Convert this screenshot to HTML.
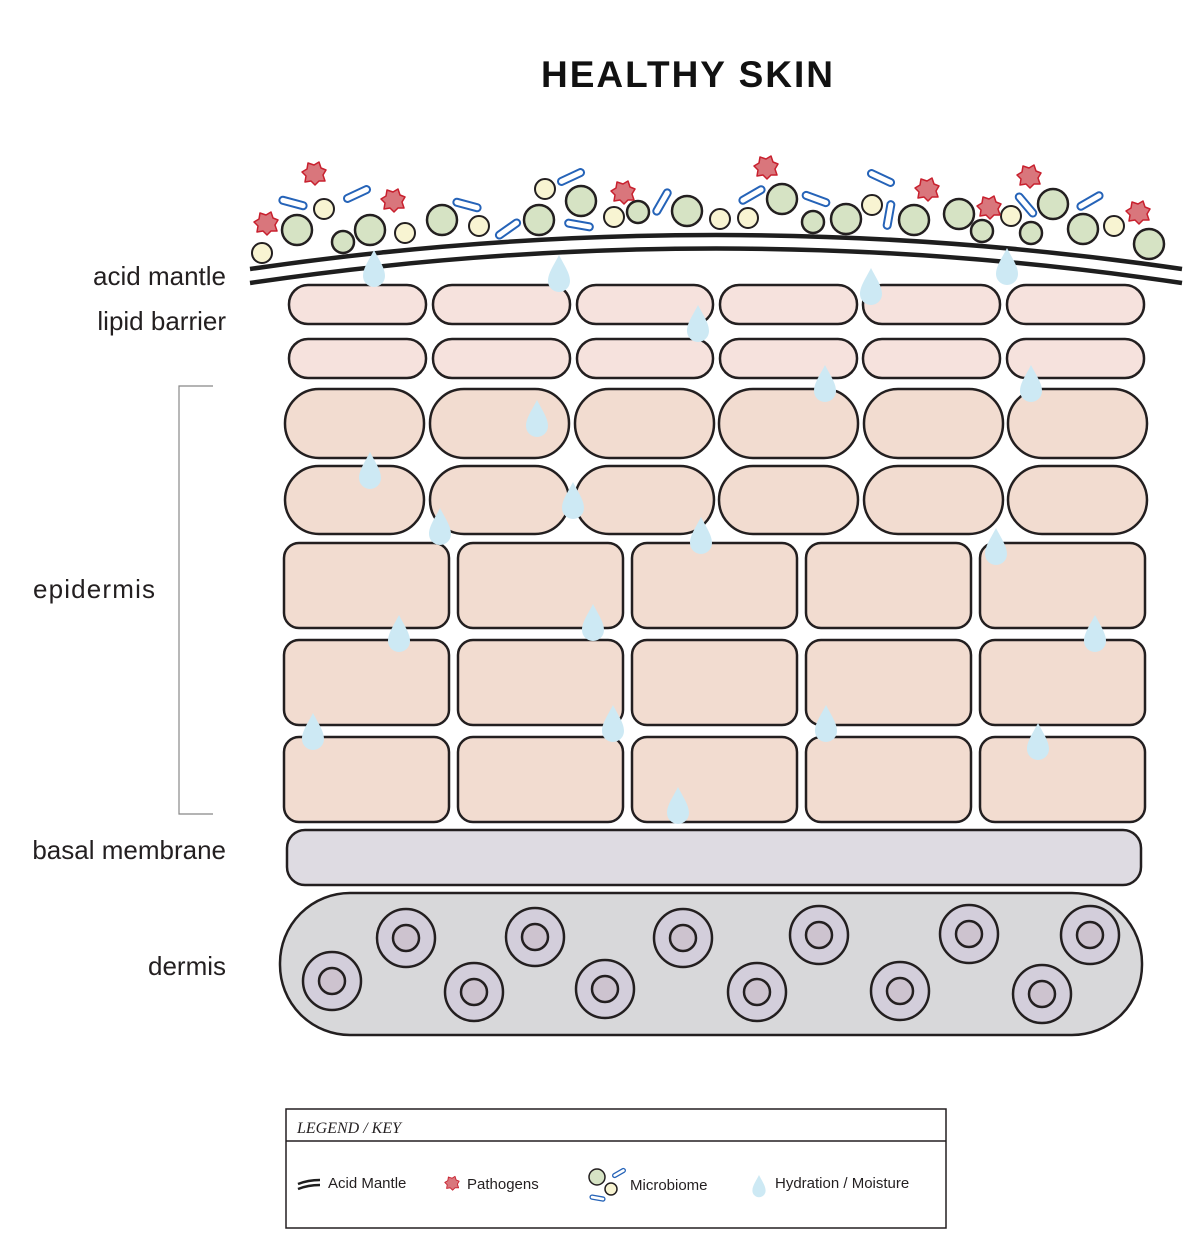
<!DOCTYPE html>
<html><head><meta charset="utf-8"><style>
html,body{margin:0;padding:0;background:#fff;}
svg{display:block;}
text{font-family:"Liberation Sans",sans-serif;fill:#231f20;}
</style></head><body>
<svg width="1200" height="1260" viewBox="0 0 1200 1260" xmlns="http://www.w3.org/2000/svg">
<defs>
<path id="drop" d="M0,-20 C5,-10 11,-2 11,6 A11,11 0 0 1 -11,6 C-11,-2 -5,-10 0,-20Z" fill="#cde9f4"/>
<path id="blob" d="M-6,-10 L0,-8 L5,-11 L7,-5 L12,-3 L9,2 L11,8 L5,8 L1,12 L-3,8 L-9,9 L-8,3 L-12,-1 L-7,-4Z" fill="#d9767c" stroke="#c8202e" stroke-width="1.5" stroke-linejoin="round"/>
<rect id="cap" x="-14" y="-3.5" width="28" height="7" rx="3.5" fill="#fff" stroke="#2563b8" stroke-width="2"/>
<g id="cell"><circle r="29" fill="#d3cedb" stroke="#231f20" stroke-width="2.5"/><circle r="13" fill="#cdc3cf" stroke="#231f20" stroke-width="2.5"/></g>
</defs>

<text x="688" y="87" text-anchor="middle" font-size="37" font-weight="bold" letter-spacing="2" style="fill:#111">HEALTHY SKIN</text>

<!-- labels -->
<g font-size="26">
<text x="226" y="285" text-anchor="end">acid mantle</text>
<text x="226" y="330" text-anchor="end">lipid barrier</text>
<text x="33" y="598" textLength="122">epidermis</text>
<text x="226" y="859" text-anchor="end">basal membrane</text>
<text x="226" y="975" text-anchor="end">dermis</text>
</g>
<path d="M213,386 H179 V814 H213" fill="none" stroke="#888" stroke-width="1.2"/>

<!-- microbiome -->
<g fill="#d6e3c4" stroke="#231f20" stroke-width="2.5">
<circle cx="297" cy="230" r="15"/><circle cx="370" cy="230" r="15"/><circle cx="442" cy="220" r="15"/><circle cx="539" cy="220" r="15"/><circle cx="581" cy="201" r="15"/><circle cx="687" cy="211" r="15"/><circle cx="782" cy="199" r="15"/><circle cx="846" cy="219" r="15"/><circle cx="914" cy="220" r="15"/><circle cx="959" cy="214" r="15"/><circle cx="1053" cy="204" r="15"/><circle cx="1083" cy="229" r="15"/><circle cx="1149" cy="244" r="15"/>
<circle cx="343" cy="242" r="11"/><circle cx="638" cy="212" r="11"/><circle cx="813" cy="222" r="11"/><circle cx="982" cy="231" r="11"/><circle cx="1031" cy="233" r="11"/>
</g>
<g fill="#f8f4d2" stroke="#231f20" stroke-width="2">
<circle cx="262" cy="253" r="10"/><circle cx="324" cy="209" r="10"/><circle cx="405" cy="233" r="10"/><circle cx="479" cy="226" r="10"/><circle cx="545" cy="189" r="10"/><circle cx="614" cy="217" r="10"/><circle cx="720" cy="219" r="10"/><circle cx="748" cy="218" r="10"/><circle cx="872" cy="205" r="10"/><circle cx="1011" cy="216" r="10"/><circle cx="1114" cy="226" r="10"/>
</g>
<g>
<use href="#cap" transform="translate(293,203) rotate(15)"/><use href="#cap" transform="translate(357,194) rotate(-25)"/><use href="#cap" transform="translate(467,205) rotate(15)"/><use href="#cap" transform="translate(508,229) rotate(-35)"/><use href="#cap" transform="translate(571,177) rotate(-25)"/><use href="#cap" transform="translate(579,225) rotate(10)"/><use href="#cap" transform="translate(662,202) rotate(-60)"/><use href="#cap" transform="translate(752,195) rotate(-30)"/><use href="#cap" transform="translate(816,199) rotate(20)"/><use href="#cap" transform="translate(881,178) rotate(25)"/><use href="#cap" transform="translate(889,215) rotate(-80)"/><use href="#cap" transform="translate(1026,205) rotate(50)"/><use href="#cap" transform="translate(1090,201) rotate(-30)"/>
</g>
<g>
<use href="#blob" x="314" y="173"/><use href="#blob" x="266" y="223"/><use href="#blob" x="393" y="200"/><use href="#blob" x="623" y="192"/><use href="#blob" x="766" y="167"/><use href="#blob" x="927" y="189"/><use href="#blob" x="1029" y="176"/><use href="#blob" x="989" y="207"/><use href="#blob" x="1138" y="212"/>
</g>

<!-- acid mantle -->
<path d="M250,269 Q716,201 1182,269" fill="none" stroke="#1e1e1e" stroke-width="4.5"/>
<path d="M250,283 Q716,214 1182,283" fill="none" stroke="#1e1e1e" stroke-width="4.5"/>

<!-- lipid rows -->
<g fill="#f6e2dd" stroke="#231f20" stroke-width="2.5">
<rect x="289" y="285" width="137" height="39" rx="19"/><rect x="433" y="285" width="137" height="39" rx="19"/><rect x="577" y="285" width="136" height="39" rx="19"/><rect x="720" y="285" width="137" height="39" rx="19"/><rect x="863" y="285" width="137" height="39" rx="19"/><rect x="1007" y="285" width="137" height="39" rx="19"/>
<rect x="289" y="339" width="137" height="39" rx="19"/><rect x="433" y="339" width="137" height="39" rx="19"/><rect x="577" y="339" width="136" height="39" rx="19"/><rect x="720" y="339" width="137" height="39" rx="19"/><rect x="863" y="339" width="137" height="39" rx="19"/><rect x="1007" y="339" width="137" height="39" rx="19"/>
</g>
<g fill="#f2dcd0" stroke="#231f20" stroke-width="2.5">
<rect x="285" y="389" width="139" height="69" rx="34"/><rect x="430" y="389" width="139" height="69" rx="34"/><rect x="575" y="389" width="139" height="69" rx="34"/><rect x="719" y="389" width="139" height="69" rx="34"/><rect x="864" y="389" width="139" height="69" rx="34"/><rect x="1008" y="389" width="139" height="69" rx="34"/>
<rect x="285" y="466" width="139" height="68" rx="34"/><rect x="430" y="466" width="139" height="68" rx="34"/><rect x="575" y="466" width="139" height="68" rx="34"/><rect x="719" y="466" width="139" height="68" rx="34"/><rect x="864" y="466" width="139" height="68" rx="34"/><rect x="1008" y="466" width="139" height="68" rx="34"/>
<rect x="284" y="543" width="165" height="85" rx="15"/><rect x="458" y="543" width="165" height="85" rx="15"/><rect x="632" y="543" width="165" height="85" rx="15"/><rect x="806" y="543" width="165" height="85" rx="15"/><rect x="980" y="543" width="165" height="85" rx="15"/>
<rect x="284" y="640" width="165" height="85" rx="15"/><rect x="458" y="640" width="165" height="85" rx="15"/><rect x="632" y="640" width="165" height="85" rx="15"/><rect x="806" y="640" width="165" height="85" rx="15"/><rect x="980" y="640" width="165" height="85" rx="15"/>
<rect x="284" y="737" width="165" height="85" rx="15"/><rect x="458" y="737" width="165" height="85" rx="15"/><rect x="632" y="737" width="165" height="85" rx="15"/><rect x="806" y="737" width="165" height="85" rx="15"/><rect x="980" y="737" width="165" height="85" rx="15"/>
</g>

<!-- basal + dermis -->
<rect x="287" y="830" width="854" height="55" rx="18" fill="#dedbe2" stroke="#231f20" stroke-width="2.5"/>
<rect x="280" y="893" width="862" height="142" rx="70" fill="#d8d8da" stroke="#231f20" stroke-width="2.5"/>
<use href="#cell" x="332" y="981"/><use href="#cell" x="406" y="938"/><use href="#cell" x="474" y="992"/><use href="#cell" x="535" y="937"/><use href="#cell" x="605" y="989"/><use href="#cell" x="683" y="938"/><use href="#cell" x="757" y="992"/><use href="#cell" x="819" y="935"/><use href="#cell" x="900" y="991"/><use href="#cell" x="969" y="934"/><use href="#cell" x="1042" y="994"/><use href="#cell" x="1090" y="935"/>

<!-- droplets -->
<g>
<use href="#drop" x="374" y="270"/><use href="#drop" x="559" y="275"/><use href="#drop" x="871" y="288"/><use href="#drop" x="1007" y="268"/><use href="#drop" x="698" y="325"/><use href="#drop" x="825" y="385"/><use href="#drop" x="1031" y="385"/><use href="#drop" x="537" y="420"/><use href="#drop" x="370" y="472"/><use href="#drop" x="573" y="502"/><use href="#drop" x="440" y="528"/><use href="#drop" x="701" y="537"/><use href="#drop" x="996" y="548"/><use href="#drop" x="399" y="635"/><use href="#drop" x="593" y="624"/><use href="#drop" x="1095" y="635"/><use href="#drop" x="313" y="733"/><use href="#drop" x="613" y="725"/><use href="#drop" x="826" y="725"/><use href="#drop" x="1038" y="743"/><use href="#drop" x="678" y="807"/>
</g>

<!-- legend -->
<rect x="286" y="1109" width="660" height="119" fill="#fff" stroke="#231f20" stroke-width="1.5"/>
<line x1="286" y1="1141" x2="946" y2="1141" stroke="#231f20" stroke-width="1.5"/>
<text x="297" y="1133" font-size="16" style="font-family:'Liberation Serif',serif;font-style:italic">LEGEND / KEY</text>
<path d="M298,1184 Q308,1180 320,1180" fill="none" stroke="#1e1e1e" stroke-width="2.5"/>
<path d="M298,1189 Q308,1185 320,1185" fill="none" stroke="#1e1e1e" stroke-width="2.5"/>
<text x="328" y="1188" font-size="15">Acid Mantle</text>
<use href="#blob" transform="translate(452,1183) scale(0.6)"/>
<text x="467" y="1189" font-size="15">Pathogens</text>
<circle cx="597" cy="1177" r="8" fill="#d6e3c4" stroke="#231f20" stroke-width="1.5"/>
<circle cx="611" cy="1189" r="6" fill="#f8f4d2" stroke="#231f20" stroke-width="1.5"/>
<rect x="612" y="1171" width="14" height="4" rx="2" fill="#fff" stroke="#2563b8" stroke-width="1.3" transform="rotate(-30 619 1173)"/>
<rect x="590" y="1196" width="15" height="4" rx="2" fill="#fff" stroke="#2563b8" stroke-width="1.3" transform="rotate(10 597 1198)"/>
<text x="630" y="1190" font-size="15">Microbiome</text>
<use href="#drop" transform="translate(759,1187) scale(0.6)"/>
<text x="775" y="1188" font-size="15">Hydration / Moisture</text>
</svg>
</body></html>
